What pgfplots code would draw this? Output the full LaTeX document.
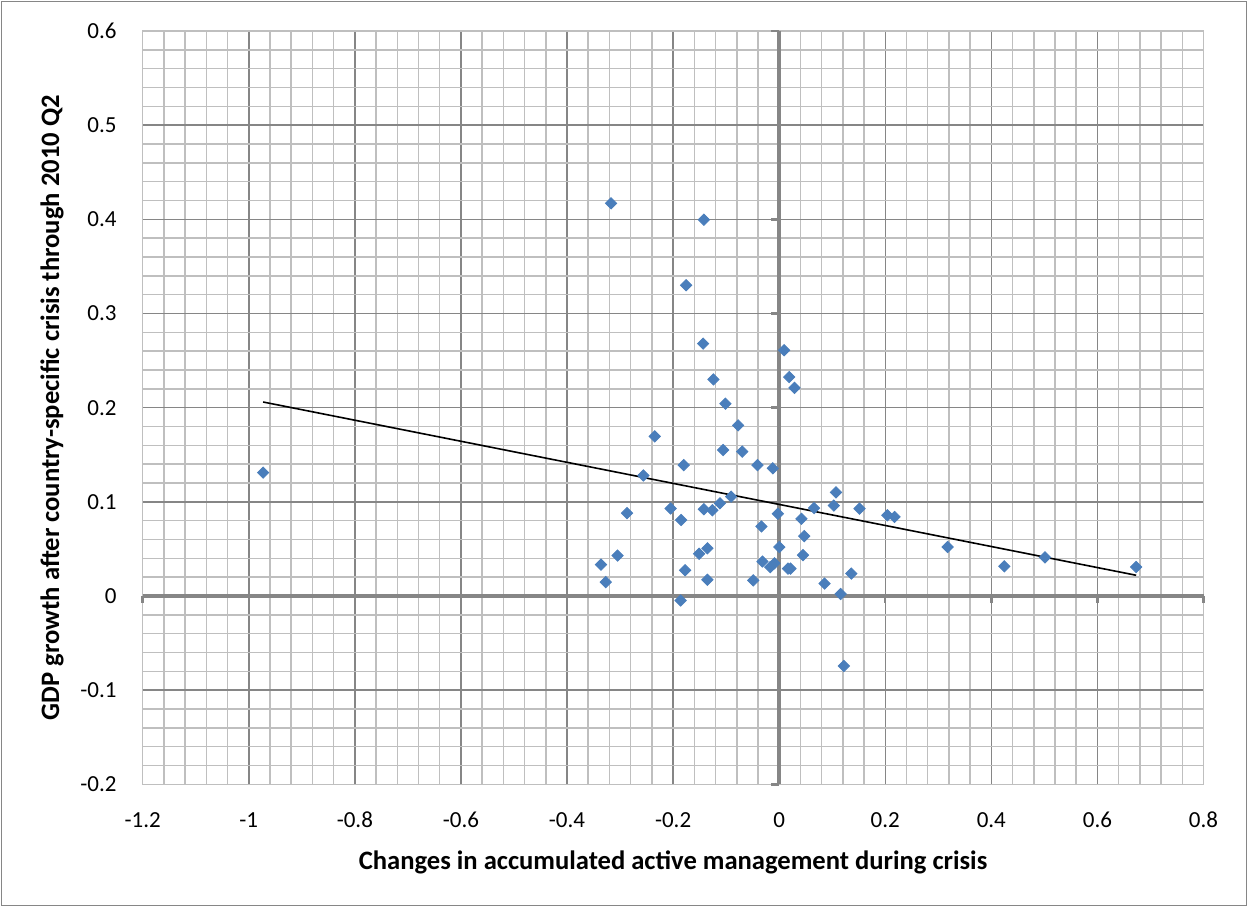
\documentclass[border=0pt]{standalone}
\usepackage{fontspec}
\setmainfont{Carlito}
\usepackage{pgfplots}
\pgfplotsset{compat=1.18}
\definecolor{majgrid}{HTML}{868686}
\definecolor{mingrid}{HTML}{BFBFBF}
\definecolor{ptblue}{HTML}{4A7EBB}
\begin{document}
\begin{tikzpicture}
\useasboundingbox (0,0) rectangle (624pt,453.5pt);
\draw[color=majgrid, line width=0.9pt] (0.75pt,0.75pt) rectangle (623.25pt,452.75pt);
\begin{axis}[
  at={(71.35pt,61.35pt)}, anchor=south west,
  scale only axis, width=530.4pt, height=376.65pt,
  xmin=-1.2, xmax=0.8, ymin=-0.2, ymax=0.6,
  xtick={-1.2,-1,-0.8,-0.6,-0.4,-0.2,0,0.2,0.4,0.6,0.8},
  ytick={-0.2,-0.1,0,0.1,0.2,0.3,0.4,0.5,0.6},
  xticklabels={-1.2,-1,-0.8,-0.6,-0.4,-0.2,0,0.2,0.4,0.6,0.8},
  yticklabels={-0.2,-0.1,0,0.1,0.2,0.3,0.4,0.5,0.6},
  minor x tick num=4, minor y tick num=4,
  grid=both,
  major grid style={color=majgrid, line width=0.75pt},
  minor grid style={color=mingrid, line width=0.75pt},
  major tick length=0pt, minor tick length=0pt,
  axis line style={color=mingrid, line width=0.75pt},
  tick label style={font=\fontsize{11.5}{13}\selectfont, inner sep=0pt},
  xticklabel style={anchor=center, yshift=-17.9pt},
  yticklabel style={anchor=east, xshift=-12.9pt},
  xlabel={Changes in accumulated active management during crisis},
  ylabel={GDP growth after country-specific crisis through 2010 Q2},
  label style={font=\fontsize{13.3}{15}\selectfont\bfseries},
  xlabel style={at={(axis description cs:0.5,-0.1031)}, anchor=center},
  ylabel style={at={(axis description cs:-0.0855,0.5)}, anchor=center, rotate=0},
  clip=false,
]
% zero axes
\addplot[color=majgrid, line width=1.7pt, forget plot] coordinates {(-1.2,0) (0.8,0)};
\addplot[color=majgrid, line width=1.7pt, forget plot] coordinates {(0,-0.2) (0,0.6)};
\pgfplotsinvokeforeach{-1.2,-1,-0.8,-0.6,-0.4,-0.2,0.2,0.4,0.6,0.8}{
  \draw[color=majgrid, line width=1.2pt] (axis cs:#1,0) -- (axis cs:#1,-0.0075);
}
\pgfplotsinvokeforeach{-0.2,-0.1,0.1,0.2,0.3,0.4,0.5,0.6}{
  \draw[color=majgrid, line width=1.2pt] (axis cs:0,#1) -- (axis cs:-0.0151,#1);
}
\addplot[only marks, mark=square*, mark size=2pt, mark options={rotate=45, fill=ptblue, draw=ptblue}] coordinates {
(-0.973,0.131) (-0.317,0.417) (-0.142,0.3996) (-0.1755,0.330) (-0.1434,0.268)
(0.0094,0.261) (-0.124,0.230) (0.0189,0.2325) (0.0289,0.221) (-0.1013,0.2042)
(-0.0774,0.1812) (-0.2347,0.1695) (-0.1057,0.155) (-0.0698,0.1533) (-0.180,0.139)
(-0.041,0.139) (-0.012,0.1356) (-0.256,0.128) (0.107,0.110) (-0.0906,0.1055)
(0.103,0.096) (0.0657,0.0934) (0.1515,0.0928) (-0.1117,0.0984) (-0.2047,0.0929)
(-0.142,0.0922) (-0.126,0.091) (-0.2868,0.088) (-0.185,0.0807) (-0.0026,0.0873)
(0.042,0.082) (-0.0334,0.0738) (0.0472,0.0636) (0.0002,0.052) (-0.1353,0.0506)
(-0.151,0.0448) (0.0449,0.0434) (-0.3047,0.0429) (-0.336,0.0333) (-0.0315,0.0366)
(-0.0089,0.0347) (-0.0168,0.0307) (0.0166,0.0291) (0.0213,0.0291) (-0.1774,0.0273)
(0.136,0.0238) (-0.327,0.0148) (-0.1353,0.0172) (-0.0489,0.0165) (0.0855,0.0132)
(0.116,0.0021) (-0.186,-0.0048) (0.204,0.0857) (0.2175,0.0839) (0.3176,0.052)
(0.4245,0.0315) (0.501,0.041) (0.673,0.0308) (0.122,-0.0743)
};
\addplot[black, line width=0.8pt] coordinates {(-0.973,0.2060) (0.673,0.0220)};
\end{axis}
\end{tikzpicture}
\end{document}
